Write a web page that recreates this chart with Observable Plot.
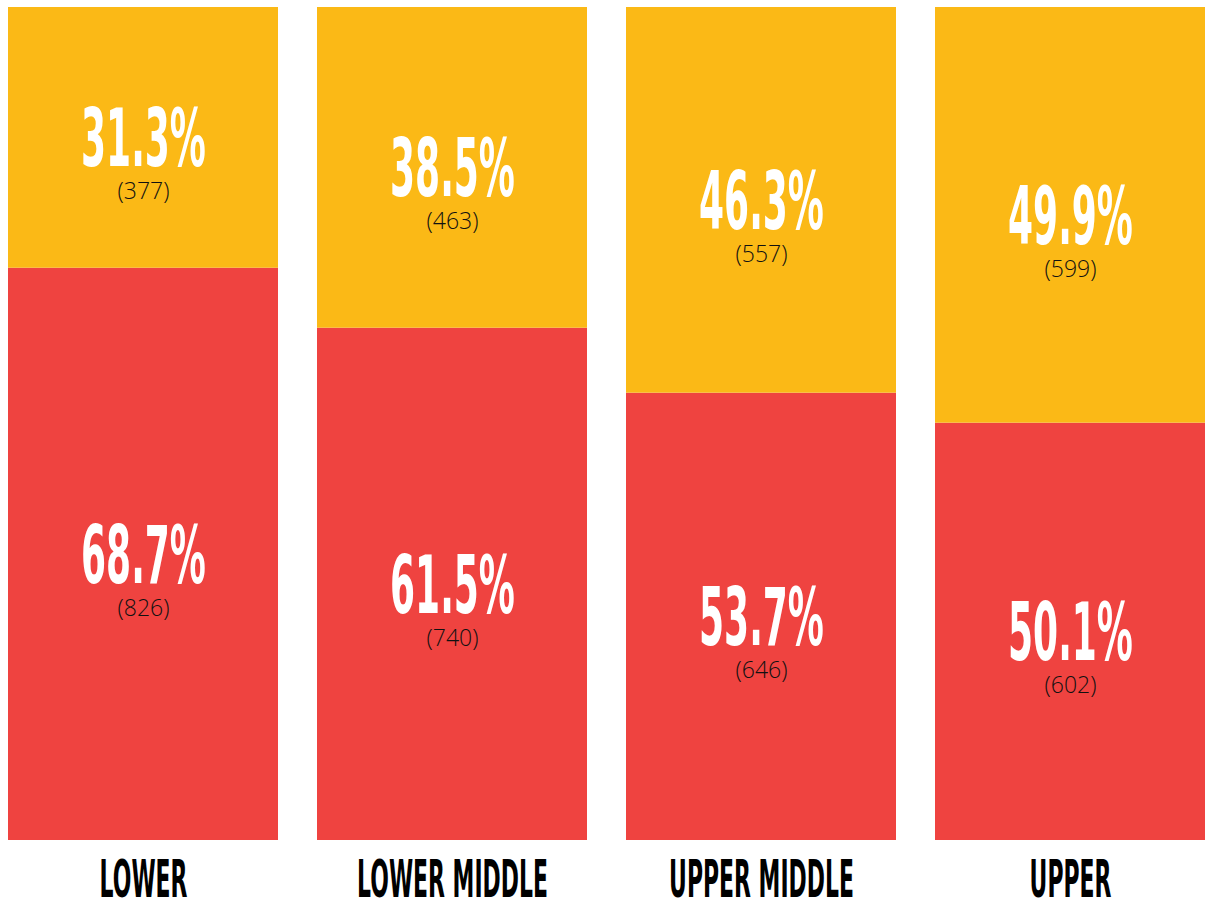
<!DOCTYPE html>
<html>
<head>
<meta charset="utf-8">
<script src="https://cdn.jsdelivr.net/npm/d3@7"></script>
<script src="https://cdn.jsdelivr.net/npm/@observablehq/plot@0.6"></script>
<style>
  html, body { margin: 0; padding: 0; background: #fff; }
  #chart svg { display: block; }
</style>
</head>
<body>
<div id="chart"></div>
<script>
const categories = ["LOWER", "LOWER MIDDLE", "UPPER MIDDLE", "UPPER"];
const redPct = [68.7, 61.5, 53.7, 50.1];
const yellowPct = [31.3, 38.5, 46.3, 49.9];
const redN = [826, 740, 646, 602];
const yellowN = [377, 463, 557, 599];

const RED = "#EF4340";
const YELLOW = "#FBB916";

const rows = [];
categories.forEach((c, i) => {
  rows.push({cat: c, y1: 0, y2: redPct[i], pct: redPct[i], n: redN[i], color: RED});
  rows.push({cat: c, y1: redPct[i], y2: 100, pct: yellowPct[i], n: yellowN[i], color: YELLOW});
});
rows.forEach(d => d.mid = (d.y1 + d.y2) / 2);

const boldFont = "'DejaVu Sans', sans-serif";

const chart = Plot.plot({
  width: 1209,
  height: 904,
  marginTop: 7,
  marginBottom: 64,
  marginLeft: 7,
  marginRight: 2,
  style: {background: "#fff"},
  x: {domain: categories, paddingInner: 0.125, paddingOuter: 0, label: null, axis: null},
  y: {domain: [0, 100], axis: null},
  marks: [
    Plot.barY(rows, {x: "cat", y1: "y1", y2: "y2", fill: "color"}),
    Plot.text(rows, {
      x: "cat", y: "mid", text: d => d.pct.toFixed(1) + "%",
      fill: "#fff", fontSize: 80, fontWeight: "bold", fontFamily: boldFont,
      dy: 3
    }),
    Plot.text(rows, {
      x: "cat", y: "mid", text: d => "(" + d.n + ")",
      fill: "#111", fontSize: 23, fontWeight: 300, fontFamily: "'Open Sans', Lato, sans-serif",
      dy: 54
    }),
    Plot.axisX({
      tickSize: 0, tickPadding: 20, fontSize: 51, fontWeight: "bold",
      fontFamily: boldFont, fill: "#000", label: null
    })
  ]
});

document.getElementById("chart").appendChild(chart);

function condense(selector, s) {
  chart.querySelectorAll(selector).forEach(el => {
    const t = el.getAttribute("transform") || "";
    el.setAttribute("transform", `${t} scale(${s},1)`);
  });
}
condense('g[font-size="80"] text', 0.45);
condense('g[font-size="51"] text', 0.43);
</script>
</body>
</html>
